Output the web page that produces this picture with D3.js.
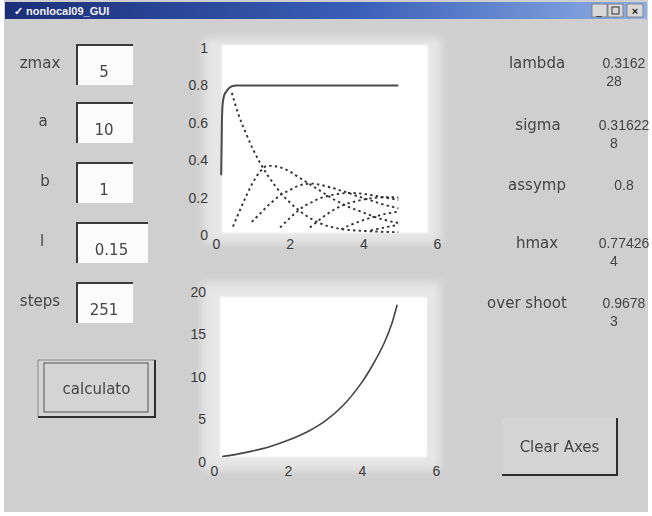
<!DOCTYPE html>
<html><head><meta charset="utf-8">
<script src="https://cdn.jsdelivr.net/npm/d3@7"></script>
<style>
html,body{margin:0;padding:0;background:#fff;}
svg{display:block;font-family:"Liberation Sans",Arial,sans-serif;}
</style></head>
<body><svg id="c" width="652" height="516"></svg>
<script>
// ---- data ----
const zTicks = [0, 2, 4, 6];
const zTickLabels = ["0", "2", "4", "6"];
const hTicks = [0, 0.2, 0.4, 0.6, 0.8, 1];
const hTickLabels = ["0", "0.2", "0.4", "0.6", "0.8", "1"];
const gTicks = [0, 5, 10, 15, 20];
const gTickLabels = ["0", "5", "10", "15", "20"];

// top axes: solid curve
const solidZ = [0.14, 0.15, 0.16, 0.18, 0.22, 0.27, 0.35, 0.45, 0.55, 1, 2, 3, 4, 4.95];
const solidH = [0.32, 0.45, 0.6, 0.7, 0.745, 0.765, 0.785, 0.797, 0.8, 0.8, 0.8, 0.8, 0.8, 0.8];
// top axes: dashed component curves
const t0Z = [0.43, 0.6, 0.8, 1.0, 1.2, 1.4, 1.6, 1.8, 2.0, 2.2, 2.4, 2.6, 2.8, 3.0, 3.2, 3.4, 3.6, 3.8, 4.0, 4.4, 4.95];
const t0H = [0.76, 0.65, 0.55, 0.46, 0.385, 0.32, 0.265, 0.215, 0.175, 0.14, 0.11, 0.085, 0.065, 0.05, 0.04, 0.032, 0.027, 0.024, 0.022, 0.018, 0.015];
const t1Z = [0.46, 0.6, 0.8, 1.0, 1.2, 1.4, 1.6, 1.8, 2.0, 2.2, 2.4, 2.6, 2.8, 3.0, 3.2, 3.4, 3.6, 3.8, 4.0, 4.2, 4.4, 4.6, 4.8, 4.95];
const t1H = [0.045, 0.11, 0.2, 0.28, 0.34, 0.37, 0.368, 0.358, 0.34, 0.315, 0.29, 0.265, 0.24, 0.215, 0.19, 0.17, 0.15, 0.135, 0.12, 0.105, 0.09, 0.08, 0.07, 0.065];
const t2Z = [0.97, 1.2, 1.4, 1.6, 1.8, 2.0, 2.2, 2.4, 2.6, 2.8, 3.0, 3.2, 3.4, 3.6, 3.8, 4.0, 4.2, 4.4, 4.6, 4.8, 4.95];
const t2H = [0.07, 0.115, 0.155, 0.19, 0.22, 0.24, 0.26, 0.272, 0.275, 0.27, 0.26, 0.25, 0.237, 0.225, 0.21, 0.198, 0.185, 0.172, 0.16, 0.15, 0.142];
const t3Z = [1.74, 2.0, 2.2, 2.4, 2.6, 2.8, 3.0, 3.2, 3.4, 3.6, 3.8, 4.0, 4.2, 4.4, 4.6, 4.8, 4.95];
const t3H = [0.04, 0.09, 0.125, 0.155, 0.175, 0.195, 0.207, 0.216, 0.222, 0.225, 0.224, 0.22, 0.214, 0.207, 0.2, 0.193, 0.187];
const t4Z = [2.55, 2.8, 3.0, 3.2, 3.4, 3.6, 3.8, 4.0, 4.2, 4.4, 4.6, 4.8, 4.95];
const t4H = [0.04, 0.08, 0.11, 0.135, 0.155, 0.17, 0.18, 0.19, 0.196, 0.2, 0.202, 0.202, 0.2];
const t5Z = [3.4, 3.6, 3.8, 4.0, 4.2, 4.4, 4.6, 4.8, 4.95];
const t5H = [0.03, 0.05, 0.065, 0.08, 0.092, 0.103, 0.113, 0.12, 0.125];
const t6Z = [4.2, 4.4, 4.6, 4.8, 4.95];
const t6H = [0.025, 0.033, 0.041, 0.049, 0.054];

// bottom axes curve
const gZ = [0.22, 0.6, 1.0, 1.5, 2.0, 2.5, 3.0, 3.5, 4.0, 4.3, 4.6, 4.8, 4.95];
const gV = [0.65, 0.9, 1.25, 1.8, 2.55, 3.5, 4.8, 6.7, 9.4, 11.5, 14.0, 16.2, 18.5];

// GUI texts
const inputLabels = ["zmax", "a", "b", "l", "steps"];
const inputValues = ["5", "10", "1", "0.15", "251"];
const outLabels = ["lambda", "sigma", "assymp", "hmax", "over shoot"];
const outValues = [["0.3162", "28"], ["0.31622", "8"], ["0.8"], ["0.77426", "4"], ["0.9678", "3"]];
const windowTitle = "nonlocal09_GUI";
const buttonLabels = ["calculato", "Clear Axes"];

// ---- drawing ----
const svg = d3.select("#c");
const defs = svg.append("defs");
const grad = defs.append("linearGradient").attr("id", "tb");
grad.append("stop").attr("offset", "0%").attr("stop-color", "#1b2f78");
grad.append("stop").attr("offset", "55%").attr("stop-color", "#3a5fb8");
grad.append("stop").attr("offset", "100%").attr("stop-color", "#8fb0e6");
defs.append("filter").attr("id", "blur4").attr("x", "-20%").attr("y", "-20%").attr("width", "140%").attr("height", "140%")
  .append("feGaussianBlur").attr("stdDeviation", 4);
defs.append("filter").attr("id", "blur1")
  .append("feGaussianBlur").attr("stdDeviation", 1.2);
defs.append("filter").attr("id", "soft")
  .append("feGaussianBlur").attr("stdDeviation", 0.45);

const guiFont = "DejaVu Sans, Verdana, sans-serif";

// window
svg.append("rect").attr("x", 4).attr("y", 0).attr("width", 644).attr("height", 512).attr("fill", "#cfcfcf");
svg.append("rect").attr("x", 5).attr("y", 2).attr("width", 642).attr("height", 17).attr("fill", "url(#tb)");
svg.append("text").attr("x", 14).attr("y", 15).attr("fill", "#f2f2f2").attr("font-size", 11).attr("font-weight", "bold")
  .text("✓ " + windowTitle);
[592, 608, 627].forEach((bx, i) => {
  svg.append("rect").attr("x", bx).attr("y", 4).attr("width", i === 2 ? 16 : 15).attr("height", 13)
    .attr("fill", "#d8d8d8").attr("stroke", "#777").attr("stroke-width", 0.8);
});
svg.append("text").attr("x", 599).attr("y", 15).attr("font-size", 10).attr("text-anchor", "middle").attr("fill", "#222").text("_");
svg.append("rect").attr("x", 612).attr("y", 7).attr("width", 7).attr("height", 7).attr("fill", "none").attr("stroke", "#333");
svg.append("text").attr("x", 635).attr("y", 15).attr("font-size", 11).attr("font-weight", "bold").attr("text-anchor", "middle").attr("fill", "#222").text("×");

const txtCol = "#444";
const gui = svg.append("g").attr("filter", "url(#soft)");

// input boxes
const boxTops = [45, 103, 163, 223, 283];
const labelX = [40, 43, 45, 42, 40];
inputLabels.forEach((lab, i) => {
  const top = boxTops[i];
  const w = i === 3 ? 71 : 56;
  gui.append("text").attr("x", labelX[i]).attr("y", top + 23).attr("text-anchor", "middle")
    .attr("font-family", guiFont).attr("font-size", 15).attr("fill", txtCol).text(lab);
  gui.append("rect").attr("x", 77).attr("y", top).attr("width", w).attr("height", 40).attr("fill", "#fbfbfb");
  gui.append("path").attr("d", `M77,${top + 40} V${top} H${77 + w}`).attr("fill", "none").attr("stroke", "#3a3a3a").attr("stroke-width", 2);
  gui.append("text").attr("x", 77 + w / 2 - 1).attr("y", top + 32).attr("text-anchor", "middle")
    .attr("font-family", guiFont).attr("font-size", 15).attr("fill", txtCol).text(inputValues[i]);
});

// output labels
const outY = [63, 125, 185, 243, 303];
const outLX = [537, 538, 537, 537, 527];
outLabels.forEach((lab, i) => {
  gui.append("text").attr("x", outLX[i]).attr("y", outY[i] + 5).attr("text-anchor", "middle")
    .attr("font-family", guiFont).attr("font-size", 15).attr("fill", txtCol).text(lab);
  outValues[i].forEach((v, j) => {
    gui.append("text").attr("x", j === 0 ? 624 : 614).attr("y", outY[i] + 5 + j * 18).attr("text-anchor", "middle")
      .attr("font-size", 14).attr("fill", txtCol).text(v);
  });
});

// buttons
function button(x, y, w, h, label, inner) {
  gui.append("rect").attr("x", x).attr("y", y).attr("width", w).attr("height", h).attr("fill", "#d4d4d4");
  gui.append("path").attr("d", `M${x},${y + h} H${x + w} V${y}`).attr("fill", "none").attr("stroke", "#2e2e2e").attr("stroke-width", 2);
  if (inner) {
    gui.append("rect").attr("x", x + 6).attr("y", y + 3).attr("width", w - 13).attr("height", h - 8)
      .attr("fill", "none").attr("stroke", "#555").attr("stroke-width", 1);
    gui.append("path").attr("d", `M${x},${y + h} V${y} H${x + w}`).attr("fill", "none").attr("stroke", "#777").attr("stroke-width", 0.8);
  }
  gui.append("text").attr("x", x + w / 2).attr("y", y + h / 2 + 5).attr("text-anchor", "middle")
    .attr("font-family", guiFont).attr("font-size", 15).attr("fill", txtCol).text(label);
}
button(38, 360, 117, 57, buttonLabels[0], true);
button(502, 418, 115, 57, buttonLabels[1], false);

// axes
function axesPanel(xs, ys, ticksY, labelsY, padTop, padBottom) {
  const [x0, x1] = xs.range();
  const [yb, yt] = ys.range();
  const g = svg.append("g");
  g.append("rect").attr("x", x0 - 12).attr("y", yt - 10).attr("width", x1 - x0 + 16).attr("height", yb - yt + 18)
    .attr("fill", "#e6e6e6").attr("filter", "url(#blur4)");
  g.append("rect").attr("x", x0 + 6).attr("y", yt + padTop).attr("width", x1 - x0 - 15).attr("height", yb - yt - padTop - padBottom)
    .attr("fill", "#ffffff").attr("filter", "url(#blur1)");
  const ax = g.append("g").attr("transform", `translate(0,${yb})`)
    .call(d3.axisBottom(xs).tickValues(zTicks).tickFormat((d, i) => zTickLabels[i]).tickSize(0).tickPadding(2));
  const ay = g.append("g").attr("transform", `translate(${x0},0)`)
    .call(d3.axisLeft(ys).tickValues(ticksY).tickFormat((d, i) => labelsY[i]).tickSize(0).tickPadding(8));
  [ax, ay].forEach(a => {
    a.select(".domain").remove();
    a.selectAll("text").attr("font-size", 14).attr("fill", "#3a3a3a").attr("font-family", "Liberation Sans, Arial, sans-serif");
  });
  ax.selectAll("text").attr("dy", "0.85em");
  return g;
}

const xTop = d3.scaleLinear().domain([0, 6]).range([216, 437]);
const yTop = d3.scaleLinear().domain([0, 1]).range([235, 48]);
const xBot = d3.scaleLinear().domain([0, 6]).range([214, 436]);
const yBot = d3.scaleLinear().domain([0, 20]).range([462, 292]);

const gTop = axesPanel(xTop, yTop, hTicks, hTickLabels, -3, 2);
const gBot = axesPanel(xBot, yBot, gTicks, gTickLabels, 5, 5);

const lineTop = d3.line().x(d => xTop(d[0])).y(d => yTop(d[1])).curve(d3.curveMonotoneX);
const zip = (a, b) => a.map((v, i) => [v, b[i]]);

const dashed = [[t0Z, t0H], [t1Z, t1H], [t2Z, t2H], [t3Z, t3H], [t4Z, t4H], [t5Z, t5H], [t6Z, t6H]];
dashed.forEach(([zz, hh]) => {
  gTop.append("path").attr("d", lineTop(zip(zz, hh))).attr("fill", "none")
    .attr("stroke", "#333").attr("stroke-width", 1.9).attr("stroke-dasharray", "2.4,3.2");
});
gTop.append("path").attr("d", lineTop(zip(solidZ, solidH))).attr("fill", "none")
  .attr("stroke", "#4a4a4a").attr("stroke-width", 2);

const lineBot = d3.line().x(d => xBot(d[0])).y(d => yBot(d[1])).curve(d3.curveCatmullRom);
gBot.append("path").attr("d", lineBot(zip(gZ, gV))).attr("fill", "none")
  .attr("stroke", "#444").attr("stroke-width", 1.6);
</script>
</body></html>
